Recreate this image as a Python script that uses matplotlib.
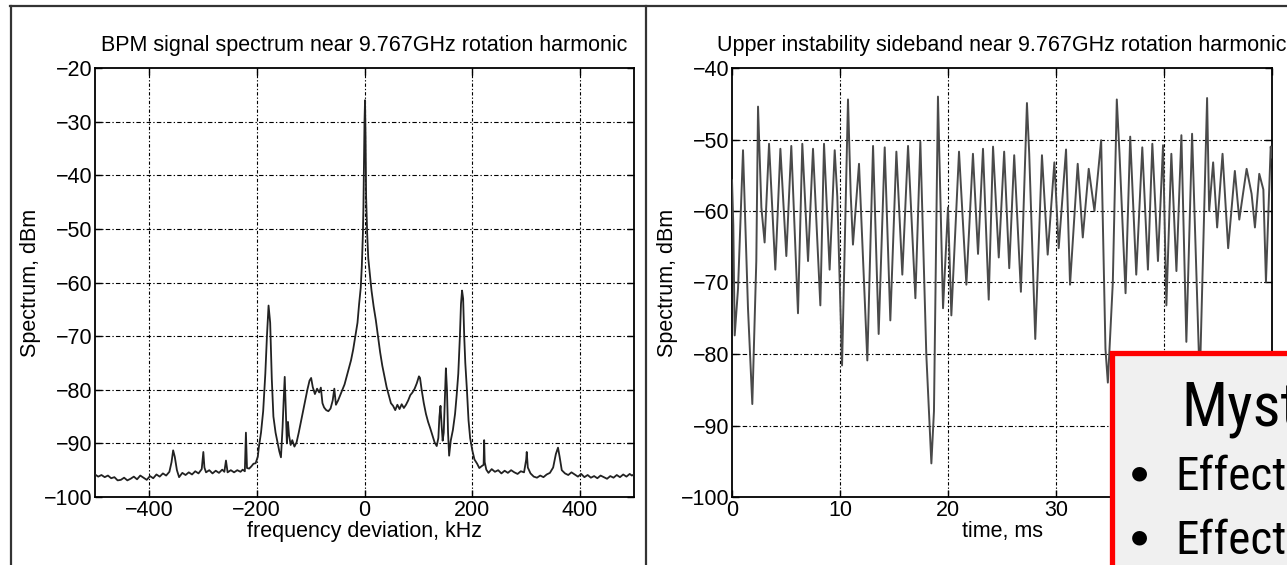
import matplotlib
matplotlib.use("Agg")
import matplotlib.pyplot as plt
from matplotlib.patches import Rectangle
from matplotlib.lines import Line2D
from matplotlib import font_manager as fm

# ---------------- data ----------------
# Left panel: BPM signal spectrum (frequency deviation kHz, dBm)
freq_khz = [-500, -494, -488, -482, -476, -470, -464, -458, -452, -446, -440, -434, -428, -422, -416,
            -410, -404, -398, -392, -386, -380, -374, -368, -362, -358, -355, -352, -348, -344, -338,
            -332, -326, -320, -314, -308, -302, -299, -297, -294, -288, -282, -276, -270, -264, -260,
            -257, -254, -248, -242, -236, -230, -226, -222, -220, -218, -214, -210, -206, -202, -198,
            -196, -192, -188, -184, -181, -178, -175, -172, -169, -165, -161, -158, -155, -152, -150,
            -148, -146, -144, -142, -140, -137, -134, -130, -126, -122, -118, -114, -110, -106, -102,
            -99, -96, -92, -88, -84, -81, -78, -75, -71, -67, -63, -59, -56, -53, -49,
            -45, -41, -37, -33, -29, -25, -21, -17, -13, -10, -7, -5, -3, -2, -1,
            0, 1, 2, 3, 5, 7, 10, 13, 17, 21, 25, 29, 33, 37, 41,
            45, 49, 53, 57, 61, 65, 69, 73, 77, 81, 85, 89, 93, 97, 101,
            103, 106, 110, 114, 118, 122, 126, 130, 134, 137, 139, 141, 143, 145, 147,
            149, 151, 153, 155, 157, 160, 164, 168, 171, 174, 177, 179, 181, 183, 185,
            187, 190, 193, 196, 200, 204, 209, 213, 218, 221, 222, 223, 226, 230, 236,
            242, 248, 254, 260, 266, 272, 278, 284, 290, 296, 300, 301, 303, 308, 314,
            320, 326, 332, 338, 344, 350, 355, 359, 362, 366, 372, 378, 384, 390, 396,
            402, 408, 414, 420, 426, 432, 438, 444, 450, 456, 462, 468, 474, 480, 486,
            492, 496, 500]
spectrum_dbm = [-95.8, -96.2, -95.9, -96.3, -96.0, -96.5, -96.3, -96.9, -96.8, -96.4, -96.9, -96.6, -96.2, -96.7, -96.0,
                -96.4, -96.8, -96.1, -96.5, -95.8, -96.2, -95.6, -96.0, -95.3, -93.5, -91.3, -92.5, -95.0, -96.3, -95.5,
                -95.9, -95.4, -95.8, -95.2, -95.6, -94.8, -91.6, -94.5, -95.4, -95.0, -95.6, -95.1, -95.5, -94.9, -95.3,
                -93.2, -95.4, -95.0, -95.4, -95.0, -95.3, -94.9, -95.2, -88.0, -94.6, -94.7, -94.3, -93.8, -93.7, -92.5,
                -90.7, -88.0, -84.0, -77.0, -70.0, -64.3, -67.5, -78.0, -85.0, -88.0, -90.0, -91.5, -92.6, -87.0, -82.0,
                -77.6, -84.0, -90.0, -86.0, -88.5, -90.3, -89.4, -90.6, -89.8, -88.0, -86.0, -84.0, -82.0, -80.0, -78.3,
                -77.8, -79.5, -80.8, -79.8, -80.5, -79.6, -82.5, -83.3, -83.8, -84.0, -83.5, -82.0, -79.8, -82.8, -82.0,
                -81.0, -80.0, -79.0, -77.5, -76.0, -74.5, -72.5, -70.0, -67.5, -64.0, -61.0, -57.0, -51.0, -46.0, -38.0,
                -30.0, -26.0, -33.0, -44.0, -51.0, -55.5, -58.5, -61.5, -64.5, -67.0, -70.0, -73.0, -75.5, -77.5, -79.5,
                -81.0, -82.5, -83.0, -83.8, -82.8, -83.6, -82.7, -83.4, -82.8, -82.0, -81.0, -80.5, -79.8, -78.8, -77.5,
                -77.8, -80.0, -82.5, -84.5, -86.0, -87.2, -88.5, -89.8, -90.5, -89.0, -85.0, -83.0, -86.5, -89.5, -88.0,
                -82.0, -76.0, -80.0, -88.0, -92.3, -89.5, -87.5, -84.5, -81.0, -77.0, -70.0, -64.0, -61.5, -63.0, -70.0,
                -75.0, -80.0, -85.7, -89.0, -91.3, -93.0, -93.8, -94.6, -94.2, -94.0, -89.4, -93.5, -94.9, -95.5, -94.8,
                -95.3, -95.0, -95.6, -95.1, -95.5, -95.0, -95.4, -95.7, -95.2, -95.4, -93.0, -91.6, -94.5, -95.6, -96.2,
                -96.4, -96.0, -96.3, -95.8, -95.5, -94.5, -92.0, -90.8, -92.5, -95.0, -95.6, -95.9, -95.4, -95.8, -96.2,
                -95.7, -96.3, -95.9, -96.4, -96.1, -96.5, -96.0, -96.3, -96.6, -96.1, -96.4, -95.9, -96.3, -95.8, -96.2,
                -95.7, -96.0, -95.8]

# Right panel: upper instability sideband vs time (ms, dBm)
time_ms = [0.00, 0.12, 0.25, 0.56, 1.02, 1.48, 1.88, 2.25, 2.41, 2.72, 3.02, 3.43, 4.01, 4.48, 5.03,
           5.49, 6.11, 6.51, 7.04, 7.50, 8.18, 8.52, 9.04, 9.51, 9.75, 10.19, 10.74, 10.99, 11.20, 11.76,
           12.53, 13.06, 13.58, 14.14, 14.66, 15.22, 15.77, 16.30, 16.98, 17.44, 17.99, 18.46, 18.70, 19.07, 19.54,
           20.00, 20.31, 21.02, 21.70, 22.31, 22.78, 23.24, 23.77, 24.17, 24.70, 25.20, 25.67, 26.13, 26.75, 27.31,
           27.52, 28.08, 28.70, 29.23, 29.85, 30.25, 30.93, 31.30, 32.01, 32.48, 33.03, 33.56, 34.18, 34.58, 34.80,
           35.26, 35.63, 35.88, 36.44, 36.87, 37.43, 37.99, 38.51, 38.92, 39.44, 39.91, 40.22, 40.68, 41.15, 41.61,
           42.07, 42.60, 43.31, 43.99, 44.18, 44.55, 44.92, 45.42, 45.94, 46.56, 46.97, 47.65, 48.11, 48.42, 48.82,
           49.20, 49.44, 49.88, 50.00]
sideband_dbm = [-55.7, -62.0, -77.4, -70.8, -51.5, -73.6, -87.0, -67.0, -45.4, -59.5, -64.4, -50.6, -68.2, -51.3, -66.3,
                -50.9, -74.3, -50.6, -67.0, -51.3, -73.2, -50.6, -68.2, -51.5, -58.0, -81.6, -44.4, -57.6, -64.7, -53.4,
                -80.9, -50.9, -77.2, -51.1, -75.3, -51.7, -68.9, -50.9, -72.2, -50.3, -80.0, -95.3, -88.0, -44.0, -73.6,
                -59.5, -74.6, -51.7, -70.3, -52.0, -66.0, -51.3, -72.4, -51.0, -66.5, -51.7, -68.0, -52.2, -71.3, -44.9,
                -52.0, -77.9, -52.2, -66.1, -53.2, -65.2, -51.4, -70.3, -53.4, -63.7, -54.1, -60.0, -50.1, -79.3, -84.0,
                -70.0, -44.4, -52.0, -71.5, -49.6, -68.9, -51.1, -68.2, -50.6, -67.0, -50.8, -73.2, -52.0, -68.4, -49.4,
                -78.3, -49.2, -84.0, -44.2, -60.0, -53.2, -62.3, -52.0, -65.2, -54.4, -61.2, -54.1, -57.6, -62.3, -54.8,
                -57.0, -69.9, -51.0, -52.5]

left_title = "BPM signal spectrum near 9.767GHz rotation harmonic"
right_title = "Upper instability sideband near 9.767GHz rotation harmonic"
left_xticks = [-400, -200, 0, 200, 400]
left_yticks = [-100, -90, -80, -70, -60, -50, -40, -30, -20]
right_xticks = [0, 10, 20, 30, 40, 50]
right_yticks = [-100, -90, -80, -70, -60, -50, -40]
box_heading = "Myst"
box_bullets = ["Effect", "Effect"]

# ---------------- style ----------------
plt.rcParams['font.family'] = ['Liberation Sans', 'DejaVu Sans']
plt.rcParams['axes.unicode_minus'] = True


def find_narrow_font():
    cands = []
    for f in fm.fontManager.ttflist:
        name = f.name.lower()
        st = str(f.stretch).lower()
        if f.style != 'normal' or f.weight not in (400, 'normal', 'regular', 'book'):
            continue
        if 'narrow' in name or 'condensed' in name or st in ('condensed', 'semi-condensed', 'extra-condensed') \
                or 'condensed' in f.fname.lower() or 'narrow' in f.fname.lower():
            if 'bold' in f.fname.lower() or 'italic' in f.fname.lower() or 'oblique' in f.fname.lower():
                continue
            cands.append(f)
    pref = ['liberation sans narrow', 'arial narrow', 'roboto condensed', 'open sans condensed',
            'noto sans', 'dejavu sans']
    for p in pref:
        for f in cands:
            if f.name.lower().startswith(p):
                return fm.FontProperties(fname=f.fname)
    if cands:
        return fm.FontProperties(fname=cands[0].fname)
    return None


narrow_fp = find_narrow_font()

W, H = 1287, 565
fig = plt.figure(figsize=(W / 100, H / 100), dpi=100)
fig.patch.set_facecolor('white')


def fx(px):
    return px / W


def fy(py):
    return 1 - py / H


# outer frame lines
frame_kw = dict(color='#333333', lw=1.6, transform=fig.transFigure)
fig.add_artist(Line2D([fx(10), fx(W + 5)], [fy(5.5), fy(5.5)], **frame_kw))
fig.add_artist(Line2D([fx(10.5), fx(10.5)], [fy(5.5), fy(H + 5)], **frame_kw))
fig.add_artist(Line2D([fx(645.5), fx(645.5)], [fy(5.5), fy(H + 5)], **frame_kw))

fs = 15.5


def style_axes(ax, xticks, yticks, xlim, ylim):
    ax.set_xlim(*xlim)
    ax.set_ylim(*ylim)
    ax.set_xticks(xticks)
    ax.set_yticks(yticks)
    ax.tick_params(direction='in', length=5, width=1, top=True, right=True,
                   labelsize=fs, colors='black')
    ax.tick_params(axis='x', pad=2)
    ax.tick_params(axis='y', pad=2)
    for s in ax.spines.values():
        s.set_linewidth(1.3)
        s.set_color('black')
    ax.grid(False)
    for t in xticks:
        if xlim[0] < t < xlim[1]:
            ax.axvline(t, color='black', lw=0.8, ls=(0, (1.2, 1.8, 3, 1.8)), zorder=1)
    for t in yticks:
        if ylim[0] < t < ylim[1]:
            ax.axhline(t, color='black', lw=0.8, ls=(0, (4, 2, 1.2, 2)), zorder=1)


# Left axes
axL = fig.add_axes([fx(95), fy(497), fx(634 - 95), (497 - 68) / H])
style_axes(axL, left_xticks, left_yticks, (-500, 500), (-100, -20))
axL.plot(freq_khz, spectrum_dbm, color='#222222', lw=1.3, zorder=3)
axL.set_title(left_title, fontsize=fs, pad=12)
axL.set_xlabel("frequency deviation, kHz", fontsize=fs, labelpad=0)
axL.set_ylabel("Spectrum, dBm", fontsize=fs, labelpad=2)

# Right axes
axR = fig.add_axes([fx(732), fy(497), fx(1272 - 732), (497 - 68) / H])
style_axes(axR, right_xticks, right_yticks, (0, 50), (-100, -40))
axR.plot(time_ms, sideband_dbm, color='#4a4a4a', lw=1.4, zorder=3)
axR.set_title(right_title, fontsize=fs, pad=12)
axR.set_xlabel("time, ms", fontsize=fs, labelpad=0)
axR.set_ylabel("Spectrum, dBm", fontsize=fs, labelpad=2)

# Red overlay box
box = Rectangle((fx(1111.5), fy(H + 20)), fx(W + 20 - 1111.5), (H + 20 - 352.5) / H,
                transform=fig.transFigure, facecolor='#f0f0f0', edgecolor='#ff0000',
                lw=3.8, zorder=10, clip_on=False)
fig.add_artist(box)

if narrow_fp is not None:
    big_kw = dict(fontproperties=narrow_fp.copy())
    big_kw['fontproperties'].set_size(44)
    sm_kw = dict(fontproperties=narrow_fp.copy())
    sm_kw['fontproperties'].set_size(34)
else:
    big_kw = dict(fontsize=40, family=['Liberation Sans', 'DejaVu Sans'])
    sm_kw = dict(fontsize=31, family=['Liberation Sans', 'DejaVu Sans'])

fig.text(fx(1181), fy(425), box_heading, color='black', ha='left', va='baseline', zorder=11, **big_kw)
for i, b in enumerate(box_bullets):
    yb = 490 + i * 64
    fig.text(fx(1139), fy(yb - 17), "\u25CF", color='black', ha='center', va='center', zorder=11,
             fontsize=14, family=['DejaVu Sans'])
    fig.text(fx(1175), fy(yb), b, color='black', ha='left', va='baseline', zorder=11, **sm_kw)

fig.savefig("out.png", dpi=100)
